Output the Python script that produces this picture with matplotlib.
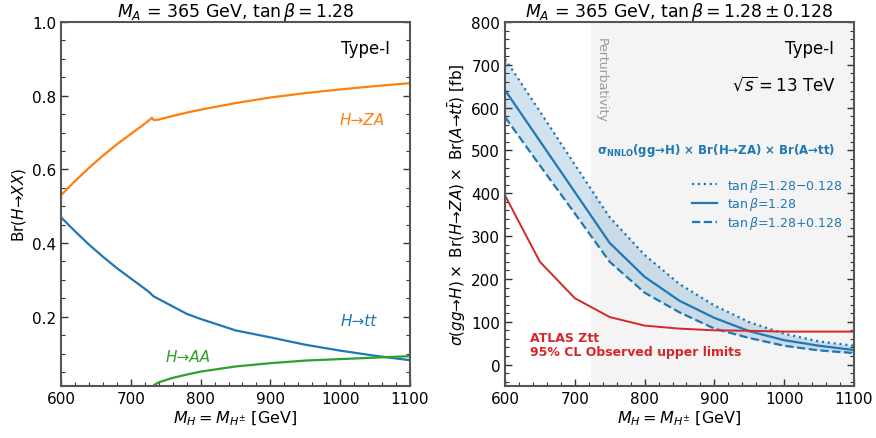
import matplotlib
matplotlib.use("Agg")
import matplotlib.pyplot as plt
from matplotlib.ticker import MultipleLocator
import matplotlib.transforms as mtransforms

# ---------------- data: left panel (branching ratios) ----------------
mass_za_tt = [600, 620, 640, 660, 680, 700, 720, 728, 730, 733, 740, 760, 780,
              800, 850, 900, 950, 1000, 1050, 1100]
br_za = [0.530, 0.568, 0.604, 0.637, 0.668, 0.696, 0.724, 0.736, 0.740, 0.734,
         0.735, 0.745, 0.754, 0.762, 0.780, 0.795, 0.807, 0.817, 0.826, 0.834]
br_tt = [0.470, 0.432, 0.396, 0.363, 0.332, 0.304, 0.276, 0.264, 0.260, 0.255,
         0.248, 0.228, 0.208, 0.194, 0.163, 0.144, 0.124, 0.108, 0.094, 0.082]
mass_aa = [730, 731, 733, 740, 760, 780, 800, 850, 900, 950, 1000, 1050, 1100]
br_aa = [0.0, 0.008, 0.014, 0.022, 0.034, 0.043, 0.051, 0.065, 0.074, 0.081,
         0.085, 0.089, 0.093]

# ---------------- data: right panel (cross sections, fb) ----------------
mass_xs = [600, 650, 700, 750, 800, 850, 900, 950, 1000, 1050, 1100]
xs_central = [641, 522, 403, 284, 205, 149, 109, 78, 57, 44, 34]
xs_tanb_minus = [714, 591, 467, 344, 256, 188, 138, 99, 72, 54, 44]
xs_tanb_plus = [578, 465, 353, 240, 168, 122, 84, 62, 44, 33, 27]
atlas_limit = [395, 240, 155, 111, 91, 84, 80, 79, 77, 77, 77]
perturbativity_start = 723

C_BLUE = "#1f77b4"
C_ORANGE = "#ff7f0e"
C_GREEN = "#2ca02c"
C_RED = "#d62728"

plt.rcParams["font.family"] = ["DejaVu Sans"]
plt.rcParams["mathtext.fontset"] = "dejavusans"

fig = plt.figure(figsize=(8.76, 4.39), dpi=100)
ax1 = fig.add_axes([61 / 876, 1 - 387 / 439, 349 / 876, 364 / 439])
ax2 = fig.add_axes([505 / 876, 1 - 387 / 439, 349 / 876, 364 / 439])


def style(ax):
    for sp in ax.spines.values():
        sp.set_color("#555555")
        sp.set_linewidth(1.5)
    ax.tick_params(which="both", direction="in", left=True, right=True,
                   bottom=True, top=False, colors="#333333", labelcolor="black",
                   labelsize=11)
    ax.tick_params(which="major", length=5, width=1.0)
    ax.tick_params(which="minor", length=3, width=0.8)


# ---------------- left panel ----------------
ax1.plot(mass_za_tt, br_za, color=C_ORANGE, lw=1.6)
ax1.plot(mass_za_tt, br_tt, color=C_BLUE, lw=1.6)
ax1.plot(mass_aa, br_aa, color=C_GREEN, lw=1.6)
ax1.set_xlim(600, 1100)
ax1.set_ylim(0.012, 1.0)
ax1.xaxis.set_major_locator(MultipleLocator(100))
ax1.xaxis.set_minor_locator(MultipleLocator(20))
ax1.yaxis.set_minor_locator(MultipleLocator(0.05))
ax1.set_yticks([0.2, 0.4, 0.6, 0.8, 1.0])
style(ax1)
ax1.set_title(r"$M_A$ = 365 GeV, $\tan\beta = 1.28$", fontsize=12.5, pad=3)
ax1.set_xlabel(r"$M_H = M_{H^{\pm}}$ [GeV]", fontsize=11.5, labelpad=2)
ax1.set_ylabel(r"Br($H$→$XX$)", fontsize=11, labelpad=3)
ax1.text(0.943, 0.929, "Type-I", transform=ax1.transAxes, ha="right",
         va="center", fontsize=12)
ax1.text(0.928, 0.731, "H→ZA", transform=ax1.transAxes, ha="right",
         va="center", fontsize=11, color=C_ORANGE, style="italic")
ax1.text(0.80, 0.179, "H→tt", transform=ax1.transAxes, ha="left",
         va="center", fontsize=11, color=C_BLUE, style="italic")
ax1.text(0.301, 0.080, "H→AA", transform=ax1.transAxes, ha="left",
         va="center", fontsize=11, color=C_GREEN, style="italic")

# ---------------- right panel ----------------
ax2.axvspan(perturbativity_start, 1100, color="#f4f4f4", zorder=0, lw=0)
ax2.fill_between(mass_xs, xs_tanb_plus, xs_tanb_minus, color=C_BLUE,
                 alpha=0.2, lw=0, zorder=1)
ax2.plot(mass_xs, xs_tanb_minus, color=C_BLUE, lw=1.6, ls=":",
         label=r"$\tan\beta$=1.28$-$0.128", zorder=2)
ax2.plot(mass_xs, xs_central, color=C_BLUE, lw=1.6, ls="-",
         label=r"$\tan\beta$=1.28", zorder=2)
ax2.plot(mass_xs, xs_tanb_plus, color=C_BLUE, lw=1.6, ls="--",
         label=r"$\tan\beta$=1.28+0.128", zorder=2)
ax2.plot(mass_xs, atlas_limit, color=C_RED, lw=1.4, zorder=2)
ax2.set_xlim(600, 1100)
ax2.set_ylim(-50, 800)
ax2.xaxis.set_major_locator(MultipleLocator(100))
ax2.xaxis.set_minor_locator(MultipleLocator(20))
ax2.yaxis.set_major_locator(MultipleLocator(100))
ax2.yaxis.set_minor_locator(MultipleLocator(20))
style(ax2)
ax2.set_title(r"$M_A$ = 365 GeV, $\tan\beta = 1.28\pm0.128$", fontsize=12.5, pad=3)
ax2.set_xlabel(r"$M_H = M_{H^{\pm}}$ [GeV]", fontsize=11.5, labelpad=2)
ax2.set_ylabel(r"$\sigma(gg$→$H)\times$ Br$(H$→$ZA)\times$ Br$(A$→$t\bar{t})$ [fb]",
               fontsize=11, labelpad=2)
ax2.text(0.943, 0.929, "Type-I", transform=ax2.transAxes, ha="right",
         va="center", fontsize=12)
ax2.text(0.948, 0.83, r"$\sqrt{s} = 13$ TeV", transform=ax2.transAxes,
         ha="right", va="center", fontsize=12)
ax2.text(0.948, 0.651,
         r"σ$_{\mathbf{NNLO}}$(gg→H) × Br(H→ZA) × Br(A→tt)",
         transform=ax2.transAxes, ha="right", va="center", fontsize=8.5,
         fontweight="bold", color=C_BLUE)
trans = mtransforms.blended_transform_factory(ax2.transData, ax2.transAxes)
ax2.text(738, 0.96, "Perturbativity", transform=trans, rotation=270,
         ha="center", va="top", fontsize=9, color="#999999")
ax2.text(0.072, 0.115, "ATLAS Ztt\n95% CL Observed upper limits",
         transform=ax2.transAxes, ha="left", va="center", fontsize=9,
         fontweight="bold", color=C_RED, linespacing=1.1)
leg = ax2.legend(loc="center right", bbox_to_anchor=(1.0, 0.50),
                 frameon=False, fontsize=9, labelcolor=C_BLUE,
                 handlelength=2.0, handletextpad=0.8, labelspacing=0.15)

fig.savefig("out.png", dpi=100)
